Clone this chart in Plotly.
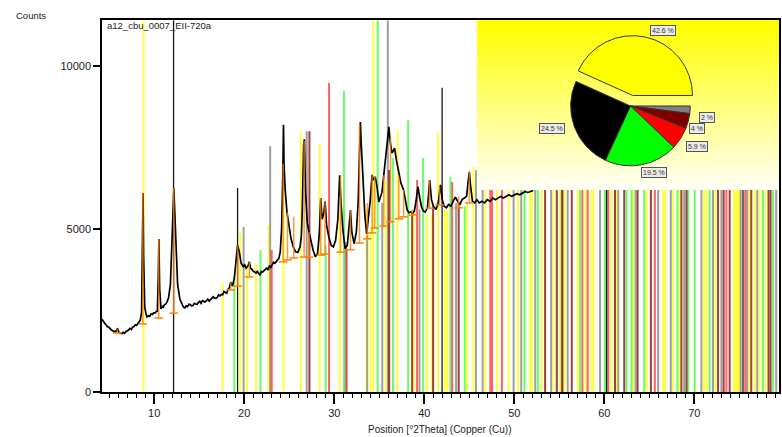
import plotly.graph_objects as go

# ---------------- data ----------------
pattern_theta = [4.2, 4.35, 4.5, 4.65, 4.8, 4.95, 5.1, 5.25, 5.4, 5.55, 5.7, 5.8, 5.9, 6.0, 6.1, 6.25, 6.4, 6.55, 6.7,
                 6.85, 7.0, 7.15, 7.3, 7.45, 7.6, 7.75, 7.9, 8.05, 8.2, 8.35, 8.45, 8.6, 8.7, 8.76, 8.82,
                 8.95, 9.1, 9.2, 9.35, 9.5, 9.65, 9.8, 9.95, 10.1, 10.25, 10.35, 10.45, 10.52, 10.6, 10.75, 10.9, 11.0,
                 11.15, 11.3, 11.45, 11.6, 11.8, 11.95, 12.1, 12.18,
                 12.28, 12.4, 12.6, 12.85, 13.1, 13.25, 13.4, 13.55, 13.7, 13.85, 14.0, 14.15, 14.3, 14.45, 14.6, 14.75,
                 14.9, 15.05, 15.2, 15.35, 15.5, 15.65, 15.8, 15.95, 16.1, 16.25, 16.4, 16.55, 16.7, 16.85,
                 17.0, 17.15, 17.3, 17.45, 17.6, 17.75, 17.9, 18.05, 18.2, 18.35, 18.5, 18.7, 18.9, 19.1, 19.26, 19.45,
                 19.65, 19.9, 20.05, 20.2, 20.45, 20.56,
                 20.7, 20.85, 21.0, 21.15, 21.3, 21.45, 21.6, 21.75, 21.9, 22.05, 22.2, 22.35, 22.5, 22.65, 22.8, 22.95,
                 23.1, 23.25, 23.4, 23.55, 23.7, 23.85, 24.0, 24.15, 24.28, 24.36, 24.42,
                 24.55, 24.75, 24.95, 25.2, 25.45, 25.7, 25.95, 26.2, 26.35, 26.45, 26.6, 26.68, 26.8, 27.0, 27.2, 27.4,
                 27.65, 27.9, 28.15, 28.35, 28.5, 28.65, 28.85, 28.98, 29.15, 29.4, 29.65, 29.9, 30.15, 30.4, 30.6,
                 30.75, 30.95, 31.2, 31.45, 31.65, 31.8, 31.95, 32.2, 32.45, 32.65, 32.8, 32.9, 33.0, 33.2, 33.4, 33.6,
                 33.8, 34.0, 34.2, 34.35, 34.55, 34.75, 34.95, 35.15, 35.3, 35.5, 35.7, 35.9, 36.07, 36.2, 36.4, 36.55,
                 36.7, 36.9, 37.1, 37.4, 37.7, 37.9, 38.1, 38.3, 38.5, 38.7, 38.9, 39.1, 39.3, 39.5, 39.7, 39.9, 40.1,
                 40.35, 40.6, 40.8, 41.0, 41.3, 41.55, 41.8, 42.0, 42.2, 42.45, 42.7, 42.95, 43.2, 43.45, 43.7, 43.95,
                 44.2, 44.45, 44.7, 44.85, 45.0, 45.15, 45.35, 45.6, 45.85, 46.1, 46.4, 46.7, 47.0, 47.3, 47.6, 47.9,
                 48.2, 48.5, 48.8, 49.1, 49.4, 49.7, 50.0, 50.3, 50.6, 50.9, 51.2, 51.5, 51.8, 52.1]
pattern_counts = [2230, 2150, 2110, 2060, 2000, 1990, 1930, 1900, 1880, 1850, 1870, 1830, 1950, 1880, 1820, 1800, 1790,
                  1830, 1800, 1850, 1870, 1900, 1950, 1920, 1990, 2010, 2060, 2040, 2110, 2150, 2200, 2450, 4500, 6100,
                  4200, 2600, 2380, 2300, 2340, 2320, 2400, 2380, 2430, 2420, 2470, 2480, 3500, 4690, 3200, 2550, 2620,
                  2600, 2680, 2700, 2780, 2900, 3300, 4200, 5600, 6250, 5600, 4300, 3300, 2850, 2650, 2600, 2580, 2640,
                  2620, 2690, 2680, 2640, 2650, 2720, 2700, 2690, 2740, 2780, 2720, 2800, 2780, 2760, 2800, 2850, 2790,
                  2830, 2850, 2920, 2880, 2870, 2900, 2980, 2950, 2990, 2980, 3080, 3050, 3030, 3150, 3200, 3370, 3250,
                  3500, 4000, 4500, 4300, 3950, 3850, 3900, 3800, 3880, 4000, 3800, 3760, 3700, 3680, 3650, 3700, 3620,
                  3580, 3700, 3680, 3720, 3760, 3800, 3740, 3880, 3820, 3900, 3980, 3950, 4000, 4050, 4100, 4300, 5000,
                  6600, 8200, 7000, 6200, 5500, 5150, 4700, 4450, 4300, 4280, 4450, 4800, 5600, 7600, 7750, 6200, 5200,
                  4900, 4600, 4350, 4150, 4250, 4900, 5950, 5300, 5500, 5850, 5100, 4750, 4500, 4450, 4650, 5300, 6650,
                  5800, 5000, 4400, 4500, 5100, 5580, 4900, 4550, 4900, 5800, 7300, 8280, 7600, 6400, 5400, 4850, 5300,
                  5900, 6660, 6500, 6600, 6300, 5830, 6000, 6130, 6650, 7210, 7700, 8130, 7700, 7330, 7400, 7480, 7120,
                  6800, 6410, 6200, 5900, 5580, 5500, 5520, 5480, 5550, 5900, 6290, 5950, 5670, 5550, 5520, 5650, 6500,
                  5900, 5700, 5600, 5800, 6350, 5900, 5700, 5650, 5750, 5700, 5850, 5980, 5850, 5750, 5900, 5950, 6000,
                  6400, 6750, 6300, 5850, 5800, 5900, 5800, 5850, 5800, 5900, 5850, 5950, 5900, 5950, 6000, 5950, 6000,
                  6050, 6000, 6050, 6080, 6050, 6100, 6150, 6120, 6150, 6180]

yellow_pos = [8.81, 17.6, 19.55, 20.3, 21.3, 22.7, 24.36, 26.28, 28.38, 30.6, 33.59, 34.03, 34.33, 35.7, 37.03, 38.84,
              40.31, 40.86, 41.53, 42.27, 42.53, 44.75, 45.46, 46.78, 48.07, 49.36, 50.40, 51.76, 51.95, 53.05, 54.35,
              55.08, 55.56, 57.04, 57.93, 58.59, 58.78, 60.81, 61.36, 63.21, 64.69, 66.53, 66.72, 67.64, 68.38, 71.07,
              71.33, 72.33, 74.40, 74.55, 74.70, 74.85, 75.00, 76.13, 76.69, 77.24, 77.98]
yellow_h = [11400, 3370, 4900, 3900, 3960, 5120, 7000, 7970, 7600, 6600, 5600, 5000, 11400, 6500, 8030, 5600,
            5450, 5500, 7970, 5600, 5550, 5800, 6900] + [11400] * 34

black_pos = [12.15, 19.26, 41.98, 60.25, 75.40]
black_h = [11400, 6260, 9330, 11400, 11400]

gray_pos = [19.93, 22.88, 26.94, 31.27, 33.66, 35.33, 35.95, 39.47, 43.53, 45.74, 46.48, 49.92, 50.77, 52.32, 54.09,
            55.27, 55.93, 59.52, 61.55, 63.47, 65.98, 67.38, 68.86, 70.78, 72.07, 73.00, 75.14, 75.87, 76.98, 79.09]
gray_h = [5060, 7540, 8000, 4600, 4800, 5800, 11400, 5600, 5800, 6800] + [11400] * 20

green_pos = [18.9, 21.8, 29.05, 31.08, 34.82, 36.51, 38.21, 39.87, 42.90, 44.49, 51.13, 52.61, 57.30, 60.07, 62.47,
             63.02, 64.43, 68.12, 69.30, 70.04, 71.70, 77.61, 78.72]
green_h = [3500, 4350, 4500, 9240, 11400, 7180, 8340, 7180, 6600, 5700] + [11400] * 13

red_pos = [23.05, 29.42, 31.38, 39.2, 43.1, 47.33, 47.52, 48.62, 57.56, 58.15, 60.44, 65.61, 73.55, 75.65]
red_h = [4350, 9480, 4400, 6500, 6440] + [11400] * 9

darkred_pos = [27.24, 36.1, 38.65, 40.98, 43.82, 53.42, 54.72, 55.34, 56.38, 61.18, 62.21, 63.69, 65.17, 68.56, 69.12,
               72.63, 73.25, 73.92, 76.32, 78.24, 78.46]
darkred_h = [8000, 6810, 5500, 5700, 5800] + [11400] * 16

peak_pos = [5.9, 8.74, 10.5, 12.17, 18.5, 19.26, 20.56, 24.32, 24.8, 25.5, 26.65, 27.2, 28.5, 28.97, 30.7, 31.8, 32.8,
            33.66, 34.2, 34.5, 35.5, 36.25, 37.17, 37.7, 38.65, 40.57, 41.7, 43.8, 45.0]
peak_base = [1810, 2090, 2270, 2420, 3130, 3250, 3530, 3990, 4050, 4110, 4140, 4140, 4200, 4230, 4290, 4360, 4570,
             4700, 4880, 5030, 5090, 5220, 5310, 5370, 5430, 5640, 5740, 5650, 5800]
peak_top = [1930, 6100, 4690, 6250, 3370, 4500, 4000, 7000, 5500, 5370, 7700, 4900, 5950, 5850, 6600, 5580, 8200,
            5800, 6660, 6600, 6650, 7800, 6600, 6200, 5600, 6500, 6300, 6000, 6750]

pie_values = [2, 4, 5.9, 19.5, 24.5, 42.6]
pie_names = ["Phase 6", "Phase 5", "Phase 4", "Phase 3", "Phase 2", "Phase 1"]
pie_colors = ["#808080", "#800000", "#ff0000", "#00ff00", "#000000", "#ffff00"]
pie_pull = [0, 0, 0, 0, 0, 0.18]
# label box positions (paper coords)
pie_label_xy = [(0.894, 0.739), (0.879, 0.707), (0.879, 0.659), (0.816, 0.589), (0.664, 0.707), (0.829, 0.973)]

FONT = "Arial, Liberation Sans, sans-serif"

fig = go.Figure()


def sticks(pos, h):
    xs, ys = [], []
    for p, v in zip(pos, h):
        xs += [p, p, None]
        ys += [0, v, None]
    return xs, ys


for pos, h, col, op, w in [(yellow_pos, yellow_h, "#ffff00", 0.75, 2),
                           (green_pos, green_h, "#22ff22", 0.7, 2),
                           (gray_pos, gray_h, "#808080", 0.75, 2),
                           (red_pos, red_h, "#ff2020", 0.7, 2),
                           (darkred_pos, darkred_h, "#800000", 0.75, 2),
                           (black_pos, black_h, "#000000", 0.9, 1.3)]:
    xs, ys = sticks(pos, h)
    fig.add_trace(go.Scatter(x=xs, y=ys, mode="lines", line=dict(color=col, width=w),
                             opacity=op, hoverinfo="skip", showlegend=False))

fig.add_trace(go.Scatter(x=pattern_theta, y=pattern_counts, mode="lines",
                         line=dict(color="black", width=1.7), showlegend=False))

ox, _ = sticks(peak_pos, peak_top)
oy = []
for b, t in zip(peak_base, peak_top):
    oy += [b, t, None]
fig.add_trace(go.Scatter(x=ox, y=oy, mode="lines", line=dict(color="#ff8000", width=1.5),
                         opacity=0.8, hoverinfo="skip", showlegend=False))
fig.add_trace(go.Scatter(x=peak_pos, y=peak_base, mode="markers",
                         marker=dict(symbol="line-ew", size=6, line=dict(color="#ff8000", width=1.5)),
                         hoverinfo="skip", showlegend=False))

# gradient background of the inset, drawn as a heatmap on overlay axes (0..1 box coords)
n_bands = 30
box_y0, box_y1 = 0.543, 1.0
band_edges = [box_y0 + (box_y1 - box_y0) * i / n_bands for i in range(n_bands + 1)]
band_level = [[i / (n_bands - 1)] for i in range(n_bands)]
fig.add_trace(go.Heatmap(z=band_level, x=[0.5538, 1.0], y=band_edges, xaxis="x2", yaxis="y2",
                         colorscale=[[0, "#fffff4"], [1, "#ffff00"]], zmin=0, zmax=1, zsmooth="best",
                         showscale=False, hoverinfo="skip"))

fig.add_trace(go.Pie(values=pie_values, labels=pie_names, sort=False, direction="clockwise", rotation=90,
                     marker=dict(colors=pie_colors, line=dict(color="#333333", width=1)),
                     pull=pie_pull, textinfo="none", hoverinfo="skip", showlegend=False,
                     domain=dict(x=[0.6763, 0.8848], y=[0.5785, 0.9591])))

annotations = []
for v, (ax_, ay_) in zip(pie_values, pie_label_xy):
    annotations.append(dict(x=ax_, y=ay_, xref="paper", yref="paper", text=f"{v:g} %", showarrow=False,
                            xanchor="center", yanchor="middle",
                            font=dict(family=FONT, size=7, color="#333333"), bgcolor="#ececec",
                            bordercolor="#555555", borderwidth=1, borderpad=1))
annotations += [
    dict(x=-0.1046, y=1.0134, xref="paper", yref="paper", text="Counts", showarrow=False,
         xanchor="center", yanchor="middle", font=dict(family=FONT, size=9.5, color="#222")),
    dict(x=0.004, y=0.984, xref="paper", yref="paper", text="a12_cbu_0007_EII-720a", showarrow=False,
         xanchor="left", yanchor="middle", font=dict(family=FONT, size=9.5, color="#222")),
    dict(x=0.4993, y=-0.102, xref="paper", yref="paper", text="Position [°2Theta] (Copper (Cu))",
         showarrow=False, xanchor="center", yanchor="middle", font=dict(family=FONT, size=10, color="#222")),
]

fig.update_layout(
    width=782, height=437, margin=dict(l=102, r=1, t=20, b=45),
    paper_bgcolor="white", plot_bgcolor="white",
    font=dict(family=FONT, size=11, color="#222"),
    xaxis=dict(range=[4.2, 79.4], tick0=0, dtick=10, ticks="outside", ticklen=10, tickwidth=1.5,
               tickcolor="black", showline=True, linecolor="black", linewidth=1.5, mirror=True,
               showgrid=False, zeroline=False,
               minor=dict(dtick=1, ticks="outside", ticklen=4, tickwidth=1, tickcolor="black", showgrid=False)),
    yaxis=dict(range=[0, 11410], tick0=0, dtick=5000, ticks="outside", ticklen=7, tickwidth=1.5,
               tickcolor="black", showline=True, linecolor="black", linewidth=1.5, mirror=True,
               showgrid=False, zeroline=False, tickformat="d"),
    xaxis2=dict(overlaying="x", range=[0, 1], visible=False, anchor="y2"),
    yaxis2=dict(overlaying="y", range=[0, 1], visible=False, anchor="x2"),
    annotations=annotations,
)

fig.write_html("out.html")
